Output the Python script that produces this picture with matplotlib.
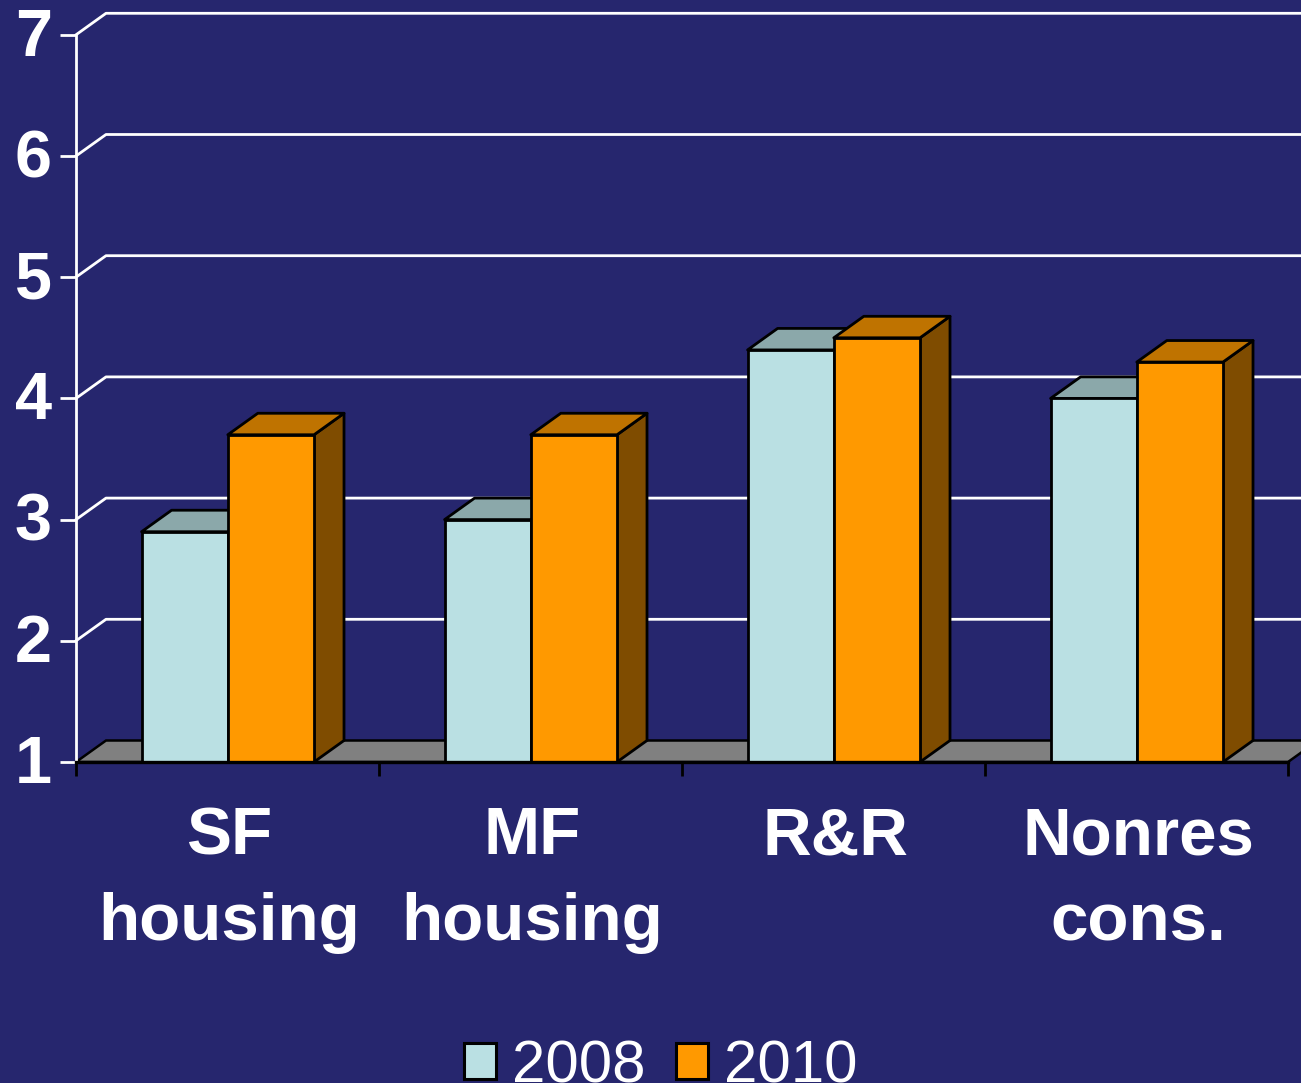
import numpy as np
import matplotlib
matplotlib.use('Agg')
import matplotlib.pyplot as plt
from matplotlib.patches import Polygon, Patch
from matplotlib.transforms import ScaledTranslation

categories = ['SF\nhousing', 'MF\nhousing', 'R&R', 'Nonres\ncons.']
series_names = ['2008', '2010']
values_2008 = [2.9, 3.0, 4.4, 4.0]
values_2010 = [3.7, 3.7, 4.5, 4.3]
y_ticks = [1, 2, 3, 4, 5, 6, 7]

bg = '#26266E'
front = ['#BAE0E3', '#FF9900']
top = ['#8BA8AA', '#BF7300']
side = ['#5D7072', '#7F4C00']

plt.rcParams['font.family'] = ['Liberation Sans', 'DejaVu Sans']

W, H = 1301, 1083
x0_px, y0_px = 76, 762
unit_x, unit_y = 303.0, 121.2
dx, dy = 30 / unit_x, 21.5 / unit_y
bar_w = 0.2845
bar_off = 0.2165

fig = plt.figure(figsize=(W / 100, H / 100), dpi=100, facecolor=bg)
ax = fig.add_axes([x0_px / W, 1 - y0_px / H, 1 - x0_px / W, y0_px / H], facecolor=bg)
ax.set_xlim(0, (W - x0_px) / unit_x)
ax.set_ylim(1, 1 + y0_px / unit_y)

n = len(categories)

# floor and back wall lines
ax.add_patch(Polygon([(0, 1), (n, 1), (n + dx, 1 + dy), (dx, 1 + dy)],
                     closed=True, fc='#808080', ec='black', lw=1.8, zorder=1))
for v in y_ticks[1:]:
    ax.plot([0, dx, ax.get_xlim()[1]], [v, v + dy, v + dy], color='white', lw=2,
            zorder=1, clip_on=False)


def bar3d(x, h, i):
    w = bar_w
    ax.add_patch(Polygon([(x + w, 1), (x + w + dx, 1 + dy), (x + w + dx, h + dy), (x + w, h)],
                         closed=True, fc=side[i], ec='black', lw=2, joinstyle='round', zorder=3 + i))
    ax.add_patch(Polygon([(x, h), (x + dx, h + dy), (x + w + dx, h + dy), (x + w, h)],
                         closed=True, fc=top[i], ec='black', lw=2, joinstyle='round', zorder=3 + i))
    ax.add_patch(Polygon([(x, 1), (x, h), (x + w, h), (x + w, 1)],
                         closed=True, fc=front[i], ec='black', lw=2, joinstyle='round', zorder=3 + i))


for k in range(n):
    bar3d(k + bar_off, values_2008[k], 0)
    bar3d(k + bar_off + bar_w, values_2010[k], 1)

# axes
for s in ['top', 'right']:
    ax.spines[s].set_visible(False)
ax.spines['left'].set_color('white')
ax.spines['left'].set_linewidth(2)
ax.spines['left'].set_bounds(1, 7)
ax.spines['bottom'].set_color('black')
ax.spines['bottom'].set_linewidth(2.4)
ax.spines['bottom'].set_bounds(0, n)
ax.spines['bottom'].set_zorder(8)

ax.set_yticks(y_ticks)
ax.set_yticklabels([str(v) for v in y_ticks], fontsize=48, fontweight='bold', color='white')
ax.tick_params(axis='y', length=11.5, width=2, color='white', pad=6)
shift = ScaledTranslation(0, 3 / 100, fig.dpi_scale_trans)
for lab in ax.get_yticklabels():
    lab.set_transform(lab.get_transform() + shift)

ax.set_xticks(np.arange(n + 1))
ax.set_xticklabels([])
ax.tick_params(axis='x', which='major', length=10, width=2, color='black')
ax.set_xticks(np.arange(n) + 0.505, minor=True)
ax.set_xticklabels(categories, minor=True, fontsize=48.5, fontweight='bold', color='white',
                   linespacing=1.5)
ax.tick_params(axis='x', which='minor', length=0, pad=32)

handles = [Patch(fc=front[0], ec='black', lw=2.2), Patch(fc=front[1], ec='black', lw=2.2)]
leg = fig.legend(handles, series_names, loc='lower center', bbox_to_anchor=(0.508, -0.0105),
                 ncol=2, frameon=False, fontsize=43.2, labelcolor='white',
                 handlelength=0.53, handleheight=0.53, handletextpad=0.27, columnspacing=0.5,
                 borderpad=0, borderaxespad=0)

fig.savefig('out.png', dpi=100, facecolor=bg)
